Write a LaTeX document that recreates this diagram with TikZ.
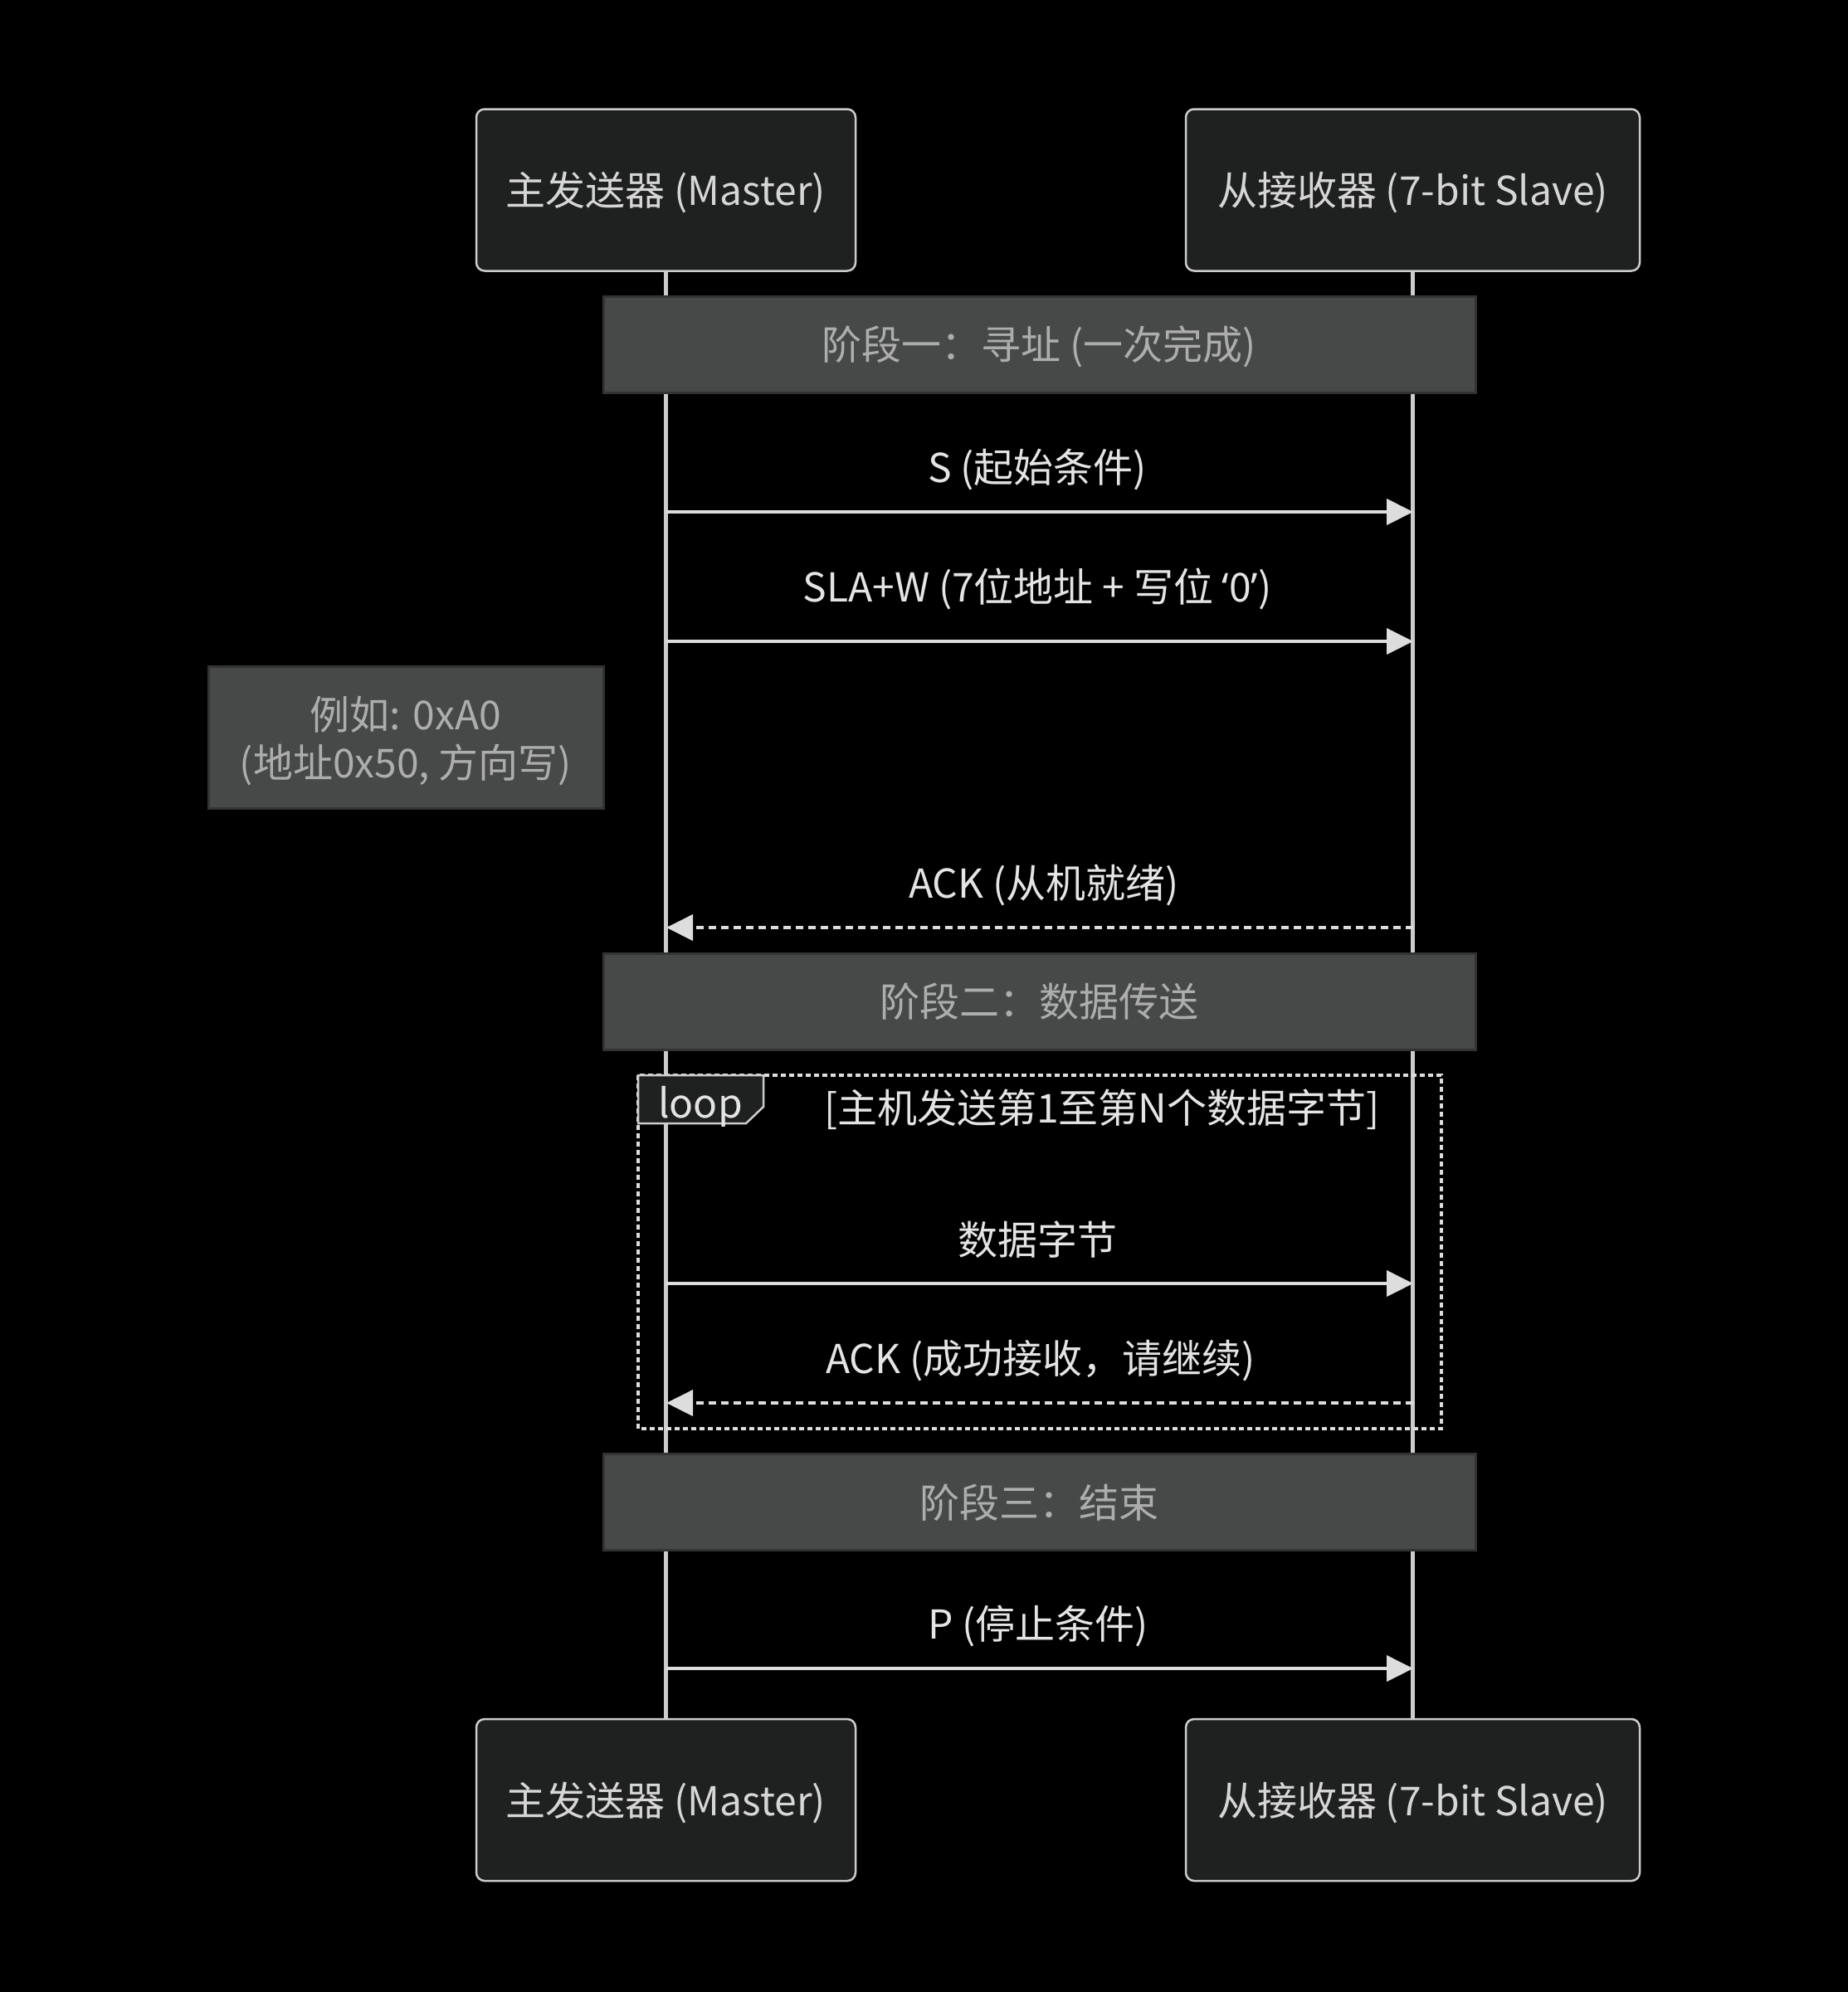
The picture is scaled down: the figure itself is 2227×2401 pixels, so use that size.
\documentclass[tikz,border=0pt]{standalone}
\usepackage{fontspec}
\setmainfont{Noto Sans CJK SC}
\newfontfamily\qfont{Noto Sans}
\usetikzlibrary{arrows.meta}
\definecolor{actfill}{HTML}{1F2020}
\definecolor{actline}{HTML}{CCCCCC}
\definecolor{acttext}{HTML}{D6D6D6}
\definecolor{notefill}{HTML}{474949}
\definecolor{noteline}{HTML}{333333}
\definecolor{notetext}{HTML}{ADADAD}
\definecolor{msgtext}{HTML}{E4E4E4}
\definecolor{msgline}{HTML}{DDDDDD}
\tikzset{
  bigfont/.style={font=\fontsize{48}{56}\selectfont},
  actor/.style={draw=actline, line width=2.5pt, fill=actfill, rounded corners=10pt,
    minimum height=195pt, text=acttext, bigfont, inner sep=0pt, text height=41pt, text depth=4pt},
  phase/.style={draw=noteline, line width=3pt, fill=notefill, minimum width=1051pt,
    minimum height=116pt, text=notetext, bigfont, inner sep=0pt, text height=41pt, text depth=4pt},
  life/.style={draw=actline, line width=5pt},
  msg/.style={draw=msgline, line width=4pt, -{Triangle[length=32pt,width=31pt]}},
  reply/.style={msg, dash pattern=on 9pt off 6pt},
  mlabel/.style={text=msgtext, bigfont, inner sep=0pt, anchor=center},
}
\begin{document}
\begin{tikzpicture}[x=1pt,y=-1pt]
\fill[black] (0,0) rectangle (2227,2401);
\useasboundingbox (0,0) rectangle (2227,2401);

% actors
\node[actor, minimum width=457pt] (mtop) at (802.5,229) {主发送器 (Master)};
\node[actor, minimum width=547pt] (stop) at (1702.5,229) {从接收器 (7-bit Slave)};
\node[actor, minimum width=457pt] (mbot) at (802.5,2169.5) {主发送器 (Master)};
\node[actor, minimum width=547pt] (sbot) at (1702.5,2169.5) {从接收器 (7-bit Slave)};

% lifelines
\draw[life] (mtop.south) -- (mbot.north);
\draw[life] (stop.south) -- (sbot.north);

% phase notes
\node[phase] (p1) at (1252.5,415) {阶段一：寻址 (一次完成)};
\node[phase] (p2) at (1252.5,1207) {阶段二：数据传送};
\node[phase] (p3) at (1252.5,1810.5) {阶段三：结束};

% example note
\node[draw=noteline, line width=3pt, fill=notefill, minimum width=476pt, minimum height=171pt,
  inner sep=0pt] (ex) at (489,888.5) {};
\node[text=notetext, bigfont, align=center, inner sep=0pt] (extext) at (489,893.5)
  {例如: 0xA0\\[2pt](地址0x50, 方向写)};

% message anchors
\coordinate (m1) at (803,617);  \coordinate (s1) at (1703,617);
\coordinate (m2) at (803,773);  \coordinate (s2) at (1703,773);
\coordinate (m3) at (803,1118); \coordinate (s3) at (1703,1118);
\coordinate (m4) at (803,1547); \coordinate (s4) at (1703,1547);
\coordinate (m5) at (803,1691); \coordinate (s5) at (1703,1691);
\coordinate (m6) at (803,2011); \coordinate (s6) at (1703,2011);

\draw[msg] (m1) -- (s1);
\node[mlabel] (l1) at (1250,566) {S (起始条件)};
\draw[msg] (m2) -- (s2);
\node[mlabel] (l2) at (1250,710) {SLA+W (7位地址 + 写位 {\qfont ‘}0{\qfont ’})};
\draw[reply] (s3) -- (m3);
\node[mlabel] (l3) at (1258,1067) {ACK (从机就绪)};

% loop
\draw[draw=msgline, line width=3.5pt, dash pattern=on 6pt off 4pt] (769,1296) rectangle (1737,1722);
\draw[draw=actline, line width=2.5pt, fill=actfill] (769,1296) -- (920,1296) -- (920,1334) -- (899,1354) -- (769,1354) -- cycle;
\node[mlabel] (looplbl) at (844,1334) {loop};
\node[mlabel] (loopcond) at (1328,1337) {[主机发送第1至第N个数据字节]};

\draw[msg] (m4) -- (s4);
\node[mlabel] (l4) at (1250,1494) {数据字节};
\draw[reply] (s5) -- (m5);
\node[mlabel] (l5) at (1254,1640) {ACK (成功接收，请继续)};

\draw[msg] (m6) -- (s6);
\node[mlabel] (l6) at (1251,1960) {P (停止条件)};
\end{tikzpicture}
\end{document}
